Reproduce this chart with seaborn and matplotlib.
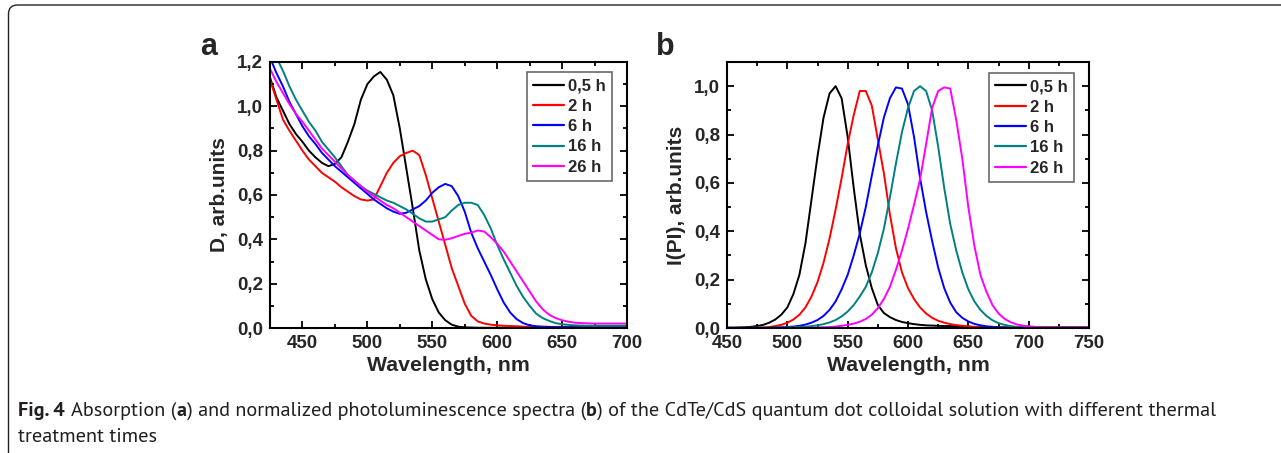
import numpy as np
import pandas as pd
import matplotlib
matplotlib.use("Agg")
import matplotlib.pyplot as plt
import seaborn as sns
from matplotlib.ticker import FuncFormatter, MultipleLocator
from matplotlib.patches import FancyBboxPatch
from matplotlib.transforms import IdentityTransform
from matplotlib import font_manager as fm

# ---------------- data ----------------
times = ["0,5 h", "2 h", "6 h", "16 h", "26 h"]
colors = ["#000000", "#FF0000", "#0000FF", "#008080", "#FF00FF"]

# (a) absorption, wavelength 425..700 nm, step 5
wl_abs = list(range(425, 705, 5))
abs_05h = [1.13, 1.04, 0.98, 0.92, 0.875, 0.84, 0.80, 0.77, 0.745, 0.73,
           0.74, 0.77, 0.84, 0.92, 1.03, 1.10, 1.135, 1.155, 1.12, 1.05,
           0.90, 0.72, 0.54, 0.35, 0.22, 0.13, 0.07, 0.035, 0.015, 0.006,
           0.003, 0.002] + [0.001] * 24
abs_2h = [1.12, 1.03, 0.94, 0.89, 0.845, 0.80, 0.76, 0.73, 0.70, 0.68,
          0.66, 0.635, 0.615, 0.595, 0.58, 0.575, 0.58, 0.64, 0.70, 0.745,
          0.775, 0.79, 0.80, 0.78, 0.69, 0.585, 0.48, 0.375, 0.27, 0.19,
          0.11, 0.055, 0.03, 0.02, 0.015, 0.012, 0.01, 0.009, 0.008, 0.006,
          0.005] + [0.005] * 15
abs_6h = [1.22, 1.15, 1.09, 1.02, 0.965, 0.91, 0.865, 0.83, 0.79, 0.76,
          0.73, 0.705, 0.68, 0.655, 0.63, 0.605, 0.58, 0.56, 0.54, 0.525,
          0.515, 0.52, 0.535, 0.55, 0.575, 0.61, 0.635, 0.65, 0.64, 0.595,
          0.525, 0.43, 0.36, 0.30, 0.24, 0.175, 0.115, 0.07, 0.04, 0.022,
          0.012, 0.008, 0.006, 0.005] + [0.004] * 12
abs_16h = [1.28, 1.22, 1.16, 1.09, 1.03, 0.98, 0.93, 0.89, 0.84, 0.805,
           0.77, 0.73, 0.69, 0.665, 0.64, 0.62, 0.605, 0.59, 0.575, 0.565,
           0.55, 0.535, 0.515, 0.495, 0.48, 0.48, 0.49, 0.50, 0.53, 0.555,
           0.565, 0.565, 0.555, 0.51, 0.45, 0.375, 0.31, 0.25, 0.19, 0.14,
           0.10, 0.065, 0.045, 0.032, 0.022, 0.017, 0.014, 0.012, 0.011,
           0.01] + [0.01] * 6
abs_26h = [1.17, 1.11, 1.06, 1.01, 0.965, 0.93, 0.89, 0.85, 0.81, 0.78,
           0.75, 0.72, 0.69, 0.665, 0.64, 0.615, 0.595, 0.575, 0.555, 0.54,
           0.52, 0.50, 0.48, 0.46, 0.44, 0.42, 0.40, 0.398, 0.405, 0.415,
           0.425, 0.43, 0.44, 0.435, 0.41, 0.38, 0.345, 0.30, 0.255, 0.21,
           0.165, 0.12, 0.085, 0.06, 0.045, 0.035, 0.028, 0.024, 0.022,
           0.021] + [0.02] * 6

# (b) normalized PL, wavelength 450..750 nm, step 5
wl_pl = list(range(450, 755, 5))
pl_05h = [0.001, 0.001, 0.002, 0.003, 0.005, 0.008, 0.013, 0.022, 0.035, 0.055,
          0.085, 0.14, 0.22, 0.35, 0.53, 0.71, 0.87, 0.97, 1.0, 0.95,
          0.79, 0.58, 0.39, 0.26, 0.165, 0.095, 0.062, 0.045, 0.033, 0.025,
          0.02, 0.016, 0.013, 0.011, 0.01, 0.009, 0.008, 0.008, 0.007, 0.006,
          0.005, 0.004, 0.003] + [0.002] * 18
pl_2h = [0.0, 0.0, 0.0, 0.0, 0.001, 0.001, 0.002, 0.004, 0.008, 0.013,
         0.022, 0.035, 0.055, 0.085, 0.13, 0.19, 0.27, 0.37, 0.49, 0.62,
         0.76, 0.88, 0.98, 0.98, 0.92, 0.78, 0.64, 0.47, 0.33, 0.23,
         0.165, 0.12, 0.085, 0.06, 0.042, 0.03, 0.022, 0.016, 0.012, 0.009,
         0.007, 0.005, 0.004, 0.003] + [0.002] * 17
pl_6h = [0.001] * 8 + [0.002, 0.003, 0.004, 0.006, 0.009, 0.014, 0.022, 0.033,
         0.05, 0.075, 0.11, 0.16, 0.22, 0.30, 0.39, 0.50, 0.63, 0.755,
         0.87, 0.95, 0.995, 0.99, 0.925, 0.79, 0.62, 0.48, 0.36, 0.25,
         0.165, 0.105, 0.065, 0.042, 0.027, 0.017, 0.011, 0.007, 0.005,
         0.003, 0.002] + [0.001] * 14
pl_16h = [0.001] * 10 + [0.002, 0.003, 0.004, 0.005, 0.008, 0.011, 0.016, 0.023,
          0.033, 0.048, 0.068, 0.095, 0.13, 0.17, 0.23, 0.31, 0.41, 0.54,
          0.68, 0.81, 0.91, 0.98, 1.0, 0.98, 0.90, 0.75, 0.58, 0.43,
          0.32, 0.23, 0.16, 0.11, 0.075, 0.05, 0.032, 0.02, 0.013, 0.008,
          0.005, 0.003, 0.002] + [0.001] * 10
pl_26h = [0.0] * 14 + [0.001, 0.002, 0.003, 0.004, 0.006, 0.009, 0.013, 0.018,
          0.026, 0.037, 0.055, 0.082, 0.12, 0.17, 0.24, 0.32, 0.41, 0.51,
          0.615, 0.76, 0.91, 0.98, 0.995, 0.99, 0.86, 0.70, 0.50, 0.34,
          0.22, 0.15, 0.095, 0.06, 0.038, 0.024, 0.015, 0.01, 0.007, 0.005,
          0.003, 0.002, 0.002] + [0.001] * 6

abs_series = [abs_05h, abs_2h, abs_6h, abs_16h, abs_26h]
pl_series = [pl_05h, pl_2h, pl_6h, pl_16h, pl_26h]

caption_bold = "Fig. 4"
caption_parts = [("Absorption (", "normal"), ("a", "bold"),
                 (") and normalized photoluminescence spectra (", "normal"),
                 ("b", "bold"),
                 (") of the CdTe/CdS quantum dot colloidal solution with different thermal", "normal")]
caption_line2 = "treatment times"


def long_df(wl, series):
    frames = []
    for t, vals in zip(times, series):
        frames.append(pd.DataFrame({"wl": wl, "val": vals, "time": t}))
    return pd.concat(frames, ignore_index=True)


df_a = long_df(wl_abs, abs_series)
df_b = long_df(wl_pl, pl_series)

# ---------------- style ----------------
sns.set_theme(style="ticks")
plt.rcParams["font.family"] = ["Liberation Sans", "DejaVu Sans"]
plt.rcParams["font.weight"] = "bold"

available = set(f.name for f in fm.fontManager.ttflist)
cap_family = "DejaVu Sans"
for cand in ["PT Sans", "Open Sans", "Noto Sans"]:
    if cand in available:
        cap_family = cand
        break
cap_font = [cap_family, "DejaVu Sans"]

W, H = 1281, 453
fig = plt.figure(figsize=(W / 100, H / 100), dpi=100)
fig.patch.set_facecolor("white")


def fx(px):
    return px / W


def fy(py):
    return 1 - py / H


ax_a = fig.add_axes([fx(270), fy(328), fx(627) - fx(270), fy(62) - fy(328)])
ax_b = fig.add_axes([fx(727), fy(328), fx(1089) - fx(727), fy(62) - fy(328)])

palette = dict(zip(times, colors))
comma = FuncFormatter(lambda v, p: ("%.1f" % v).replace(".", ","))

for ax, df, xlim, ylim, ylab, anchor in [
    (ax_a, df_a, (425, 700), (0, 1.2), "D, arb.units", (0.958, 0.962)),
    (ax_b, df_b, (450, 750), (0, 1.1), "I(PI), arb.units", (0.9586, 0.959)),
]:
    sns.lineplot(data=df, x="wl", y="val", hue="time", palette=palette,
                 hue_order=times, estimator=None, sort=False,
                 linewidth=1.4, ax=ax)
    ax.set_xlim(*xlim)
    ax.set_ylim(*ylim)
    ax.xaxis.set_major_locator(MultipleLocator(50))
    ax.xaxis.set_minor_locator(MultipleLocator(25))
    ax.yaxis.set_major_locator(MultipleLocator(0.2))
    ax.yaxis.set_minor_locator(MultipleLocator(0.1))
    ax.yaxis.set_major_formatter(comma)
    ax.xaxis.set_major_formatter(FuncFormatter(lambda v, p: "%d" % v))
    ax.tick_params(which="both", direction="in", top=True, right=True,
                   labeltop=False, labelright=False, width=1.3, color="black")
    ax.tick_params(which="major", length=5, labelsize=13.5, pad=5)
    ax.tick_params(which="minor", length=3)
    for lab in ax.get_xticklabels() + ax.get_yticklabels():
        lab.set_fontweight("bold")
    for s in ax.spines.values():
        s.set_linewidth(1.5)
        s.set_color("black")
    ax.set_xlabel("Wavelength, nm", fontsize=15.3, fontweight="bold", labelpad=3)
    ax.set_ylabel(ylab, fontsize=15, fontweight="bold", labelpad=6)
    leg = ax.legend(loc="upper right", bbox_to_anchor=anchor,
                    frameon=True, fancybox=False, fontsize=12,
                    handlelength=1.85, handletextpad=0.25, labelspacing=0.32,
                    borderpad=0.38, borderaxespad=0.0)
    leg.get_frame().set_edgecolor("#444444")
    leg.get_frame().set_linewidth(1.2)
    for t in leg.get_texts():
        t.set_fontweight("bold")
    for l in leg.get_lines():
        l.set_linewidth(1.6)

# panel letters
fig.text(fx(209), fy(47), "a", fontsize=22, fontweight="bold", ha="center", va="center")
fig.text(fx(665), fy(47), "b", fontsize=22, fontweight="bold", ha="center", va="center")

# frame (top and left edges with rounded corner; rest runs off the image)
frame = FancyBboxPatch((8.5, -60), 1500, (H - 5) + 60,
                       boxstyle="round,pad=0,rounding_size=9",
                       transform=IdentityTransform(), facecolor="none",
                       edgecolor="#222222", linewidth=1.0, clip_on=False)
fig.patches.append(frame)

# caption: pick a size so line 1 spans about x = 18 .. 1218 px
r = fig.canvas.get_renderer()


def line1_width(fs):
    tmp = [fig.text(0, 0, caption_bold, fontsize=fs, fontweight="bold", family=cap_font)]
    w = tmp[0].get_window_extent(renderer=r).width + fs * 0.45
    for s, wt in caption_parts:
        t = fig.text(0, 0, s, fontsize=fs, fontweight=wt, family=cap_font)
        tmp.append(t)
        w += t.get_window_extent(renderer=r).width
    for t in tmp:
        t.remove()
    return w


fs = 12.0
w12 = line1_width(fs)
fs = fs * (1200.0 / w12)
fs = max(10.5, min(fs, 15.5))

cap_color = "#231f20"
t1 = fig.text(fx(18), fy(416), caption_bold, fontsize=fs, fontweight="bold",
              family=cap_font, va="baseline", ha="left", color=cap_color)
xpos = t1.get_window_extent(renderer=r).x1 + fs * 0.45
for s, wt in caption_parts:
    t = fig.text(xpos / W, fy(416), s, fontsize=fs, fontweight=wt, family=cap_font,
                 va="baseline", ha="left", color=cap_color)
    xpos = t.get_window_extent(renderer=r).x1
fig.text(fx(18), fy(442), caption_line2, fontsize=fs, fontweight="normal",
         family=cap_font, va="baseline", ha="left", color=cap_color)

fig.savefig("out.png", dpi=100)
